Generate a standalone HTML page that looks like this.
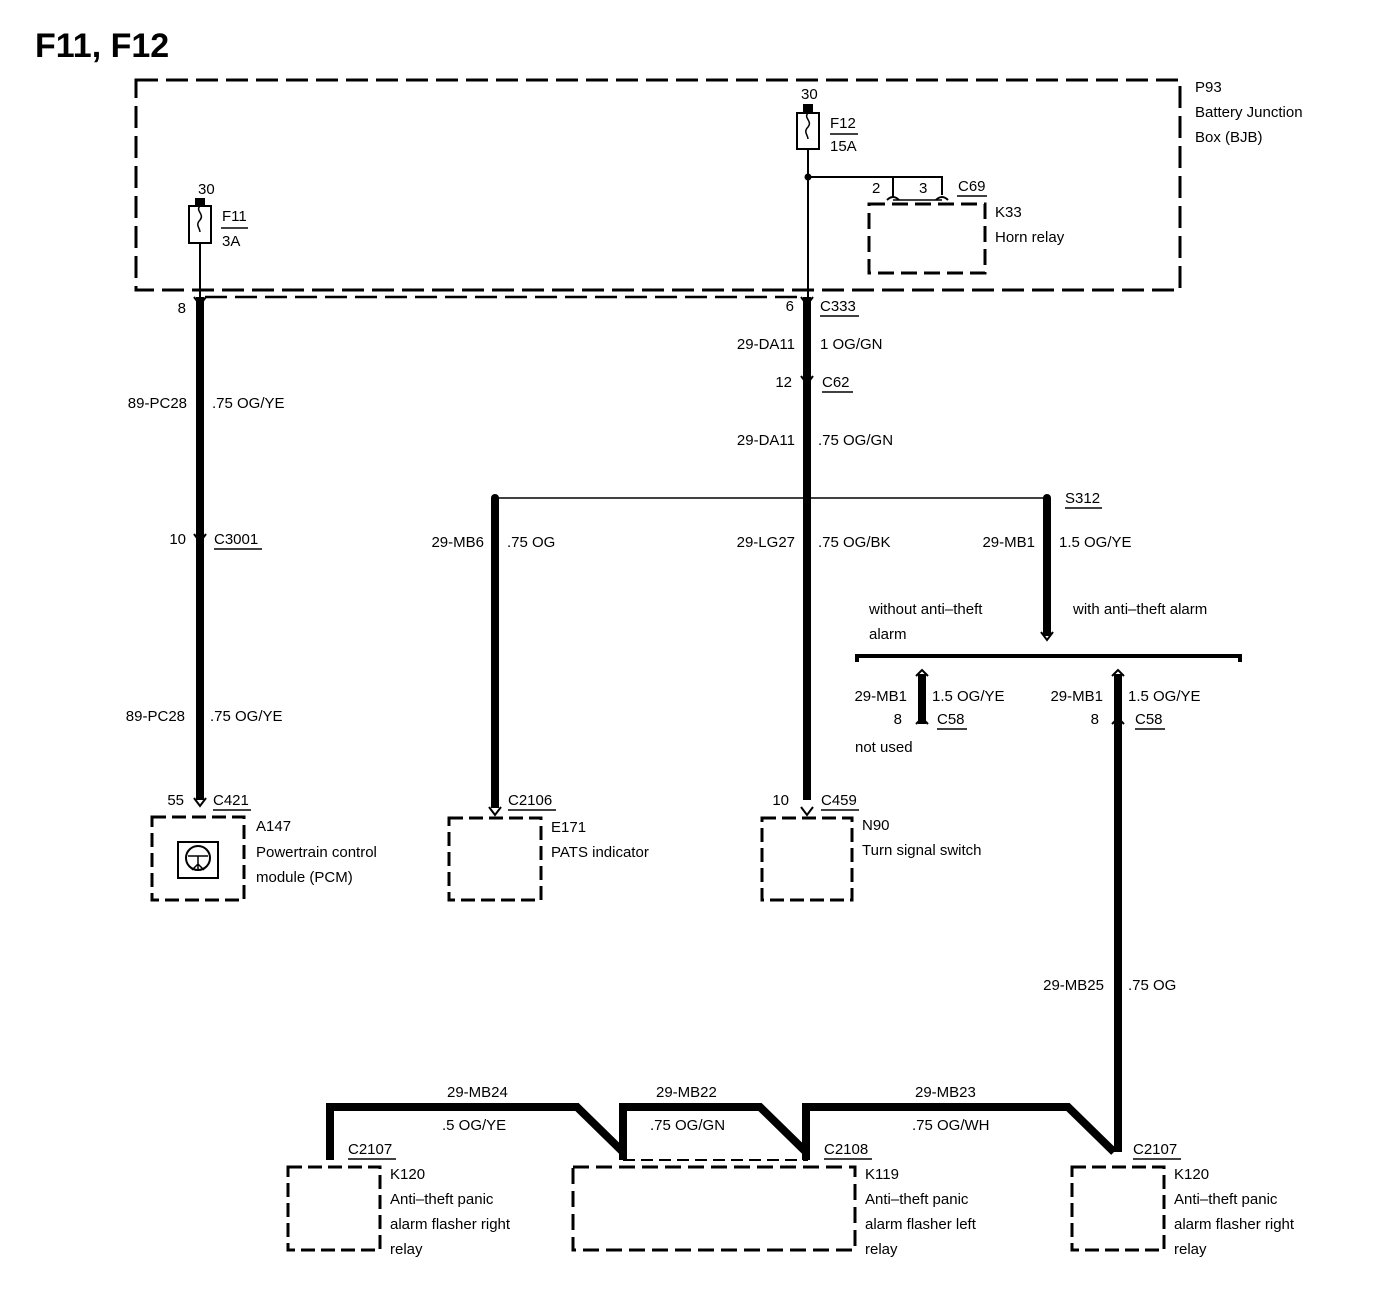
<!DOCTYPE html>
<html><head><meta charset="utf-8"><style>
body{margin:0;background:#fff}
svg{display:block}
text{font-family:"Liberation Sans",Arial,sans-serif;font-size:15px;fill:#000}
.r{text-anchor:end}
.d{fill:none;stroke:#000;stroke-width:3;stroke-dasharray:22,8}
.w{fill:none;stroke:#000;stroke-width:8}
.t{fill:none;stroke:#000;stroke-width:1.5}
</style></head><body>
<svg width="1376" height="1300" viewBox="0 0 1376 1300" xmlns="http://www.w3.org/2000/svg">
<text x="35" y="57" style="font-size:34px;font-weight:bold">F11, F12</text>
<!-- BJB -->
<rect class="d" x="136" y="80" width="1044" height="210"/>
<line class="d" x1="205" y1="297" x2="800" y2="297" style="stroke-width:2.5"/>
<text x="1195" y="92">P93</text><text x="1195" y="117">Battery Junction</text><text x="1195" y="142">Box (BJB)</text>
<!-- F11 -->
<text x="198" y="194">30</text>
<rect x="195" y="198" width="10" height="8"/>
<rect class="t" x="189" y="206" width="22" height="37" style="stroke-width:2"/>
<path class="t" d="M200 206 c-5 5 5 8 0 14 c-5 5 0 8 0 12" />
<text x="222" y="221">F11</text><line x1="221" y1="228" x2="248" y2="228" stroke="#000" stroke-width="1.5"/><text x="222" y="246">3A</text>
<line class="t" x1="200" y1="243" x2="200" y2="297" style="stroke-width:2"/>
<line class="w" x1="200" y1="297" x2="200" y2="800"/>
<path class="t" d="M194 297 L200 305 L206 297 M194 534 L200 542 L206 534 M194 798 L200 806 L206 798" style="stroke-width:2"/>
<text x="186" y="313" class="r">8</text>
<text x="187" y="408" class="r">89-PC28</text><text x="212" y="408">.75 OG/YE</text>
<text x="186" y="544" class="r">10</text><text x="214" y="544">C3001</text><line x1="214" y1="549" x2="262" y2="549" stroke="#000" stroke-width="1.5"/>
<text x="185" y="721" class="r">89-PC28</text><text x="210" y="721">.75 OG/YE</text>
<text x="184" y="805" class="r">55</text><text x="213" y="805">C421</text><line x1="213" y1="810" x2="251" y2="810" stroke="#000" stroke-width="1.5"/>
<rect class="d" x="152" y="817" width="92" height="83" style="stroke-dasharray:14,6"/>
<rect class="t" x="178" y="842" width="40" height="36" style="stroke-width:2"/>
<circle cx="198" cy="858" r="12" class="t" style="stroke-width:2"/>
<path class="t" d="M188 856 h20 M198 856 v14 M192 870 l6-6 l6 6"/>
<text x="256" y="831">A147</text><text x="256" y="857">Powertrain control</text><text x="256" y="882">module (PCM)</text>
<!-- F12 -->
<text x="801" y="99">30</text>
<rect x="803" y="104" width="10" height="9"/>
<rect class="t" x="797" y="113" width="22" height="36" style="stroke-width:2"/>
<path class="t" d="M808 113 c-5 5 5 8 0 14 c-5 5 0 8 0 12"/>
<text x="830" y="128">F12</text><line x1="830" y1="134" x2="858" y2="134" stroke="#000" stroke-width="1.5"/><text x="830" y="151">15A</text>
<line class="t" x1="808" y1="149" x2="808" y2="297" style="stroke-width:2"/>
<circle cx="808" cy="177" r="3.5"/>
<path class="t" d="M808 177 H942 V195 M893 177 V197" style="stroke-width:2"/>
<path class="t" d="M887 200 q6 -6 12 0 M936 200 q6 -6 12 0" style="stroke-width:2"/>
<line x1="893" y1="200" x2="942" y2="200" stroke="#000" stroke-width="1.5"/>
<text x="872" y="193">2</text><text x="919" y="193">3</text>
<text x="958" y="191">C69</text><line x1="957" y1="196" x2="987" y2="196" stroke="#000" stroke-width="1.5"/>
<rect class="d" x="869" y="204" width="116" height="69" style="stroke-dasharray:16,7"/>
<text x="995" y="217">K33</text><text x="995" y="242">Horn relay</text>
<line class="w" x1="807" y1="297" x2="807" y2="800"/>
<path class="t" d="M801 297 L807 305 L813 297 M801 376 L807 384 L813 376 M801 807 L807 815 L813 807" style="stroke-width:2"/>
<text x="794" y="311" class="r">6</text><text x="820" y="311">C333</text><line x1="820" y1="316" x2="859" y2="316" stroke="#000" stroke-width="1.5"/>
<text x="795" y="349" class="r">29-DA11</text><text x="820" y="349">1 OG/GN</text>
<text x="792" y="387" class="r">12</text><text x="822" y="387">C62</text><line x1="822" y1="392" x2="853" y2="392" stroke="#000" stroke-width="1.5"/>
<text x="795" y="445" class="r">29-DA11</text><text x="818" y="445">.75 OG/GN</text>
<!-- splice -->
<line class="t" x1="495" y1="498" x2="1047" y2="498"/>
<circle cx="495" cy="498" r="4"/><circle cx="807" cy="498" r="4"/><circle cx="1047" cy="498" r="4"/>
<text x="1065" y="503">S312</text><line x1="1065" y1="508" x2="1102" y2="508" stroke="#000" stroke-width="1.5"/>
<line class="w" x1="495" y1="498" x2="495" y2="808"/>
<path class="t" d="M489 807 L495 815 L501 807" style="stroke-width:2"/>
<text x="484" y="547" class="r">29-MB6</text><text x="507" y="547">.75 OG</text>
<text x="508" y="805">C2106</text><line x1="508" y1="810" x2="556" y2="810" stroke="#000" stroke-width="1.5"/>
<rect class="d" x="449" y="818" width="92" height="82" style="stroke-dasharray:14,6"/>
<text x="551" y="832">E171</text><text x="551" y="857">PATS indicator</text>
<text x="795" y="547" class="r">29-LG27</text><text x="818" y="547">.75 OG/BK</text>
<text x="789" y="805" class="r">10</text><text x="821" y="805">C459</text><line x1="821" y1="810" x2="859" y2="810" stroke="#000" stroke-width="1.5"/>
<rect class="d" x="762" y="818" width="90" height="82" style="stroke-dasharray:14,6"/>
<text x="862" y="830">N90</text><text x="862" y="855">Turn signal switch</text>
<line class="w" x1="1047" y1="498" x2="1047" y2="636"/>
<path class="t" d="M1041 632 L1047 640 L1053 632" style="stroke-width:2"/>
<text x="1035" y="547" class="r">29-MB1</text><text x="1059" y="547">1.5 OG/YE</text>
<text x="869" y="614">without anti–theft</text><text x="869" y="639">alarm</text>
<text x="1073" y="614">with anti–theft alarm</text>
<path d="M857 662 V656 H1240 V662" fill="none" stroke="#000" stroke-width="4"/>
<line class="w" x1="922" y1="674" x2="922" y2="724"/>
<path class="t" d="M916 676 L922 670 L928 676 M916 724 L922 718 L928 724" style="stroke-width:2"/>
<text x="907" y="701" class="r">29-MB1</text><text x="932" y="701">1.5 OG/YE</text>
<text x="902" y="724" class="r">8</text><text x="937" y="724">C58</text><line x1="937" y1="729" x2="967" y2="729" stroke="#000" stroke-width="1.5"/>
<text x="855" y="752">not used</text>
<line class="w" x1="1118" y1="674" x2="1118" y2="1152"/>
<path class="t" d="M1112 676 L1118 670 L1124 676 M1112 724 L1118 718 L1124 724" style="stroke-width:2"/>
<text x="1103" y="701" class="r">29-MB1</text><text x="1128" y="701">1.5 OG/YE</text>
<text x="1099" y="724" class="r">8</text><text x="1135" y="724">C58</text><line x1="1135" y1="729" x2="1165" y2="729" stroke="#000" stroke-width="1.5"/>
<text x="1104" y="990" class="r">29-MB25</text><text x="1128" y="990">.75 OG</text>
<!-- bottom -->
<path class="w" d="M330 1160 V1107 H577 L623 1152 V1160"/>
<path class="w" d="M623 1160 V1107 H760 L806 1152 V1160"/>
<path class="w" d="M806 1160 V1107 H1068 L1114 1152"/>
<line x1="623" y1="1160" x2="808" y2="1160" stroke="#000" stroke-width="2" stroke-dasharray="12,6"/>
<text x="447" y="1097">29-MB24</text><text x="442" y="1130">.5 OG/YE</text>
<text x="656" y="1097">29-MB22</text><text x="650" y="1130">.75 OG/GN</text>
<text x="915" y="1097">29-MB23</text><text x="912" y="1130">.75 OG/WH</text>
<text x="348" y="1154">C2107</text><line x1="348" y1="1159" x2="396" y2="1159" stroke="#000" stroke-width="1.5"/>
<rect class="d" x="288" y="1167" width="92" height="83" style="stroke-dasharray:14,6"/>
<text x="390" y="1179">K120</text><text x="390" y="1204">Anti–theft panic</text><text x="390" y="1229">alarm flasher right</text><text x="390" y="1254">relay</text>
<text x="824" y="1154">C2108</text><line x1="824" y1="1159" x2="872" y2="1159" stroke="#000" stroke-width="1.5"/>
<rect class="d" x="573" y="1167" width="282" height="83" style="stroke-dasharray:16,7"/>
<text x="865" y="1179">K119</text><text x="865" y="1204">Anti–theft panic</text><text x="865" y="1229">alarm flasher left</text><text x="865" y="1254">relay</text>
<text x="1133" y="1154">C2107</text><line x1="1133" y1="1159" x2="1181" y2="1159" stroke="#000" stroke-width="1.5"/>
<rect class="d" x="1072" y="1167" width="92" height="83" style="stroke-dasharray:14,6"/>
<text x="1174" y="1179">K120</text><text x="1174" y="1204">Anti–theft panic</text><text x="1174" y="1229">alarm flasher right</text><text x="1174" y="1254">relay</text>
</svg>
</body></html>
